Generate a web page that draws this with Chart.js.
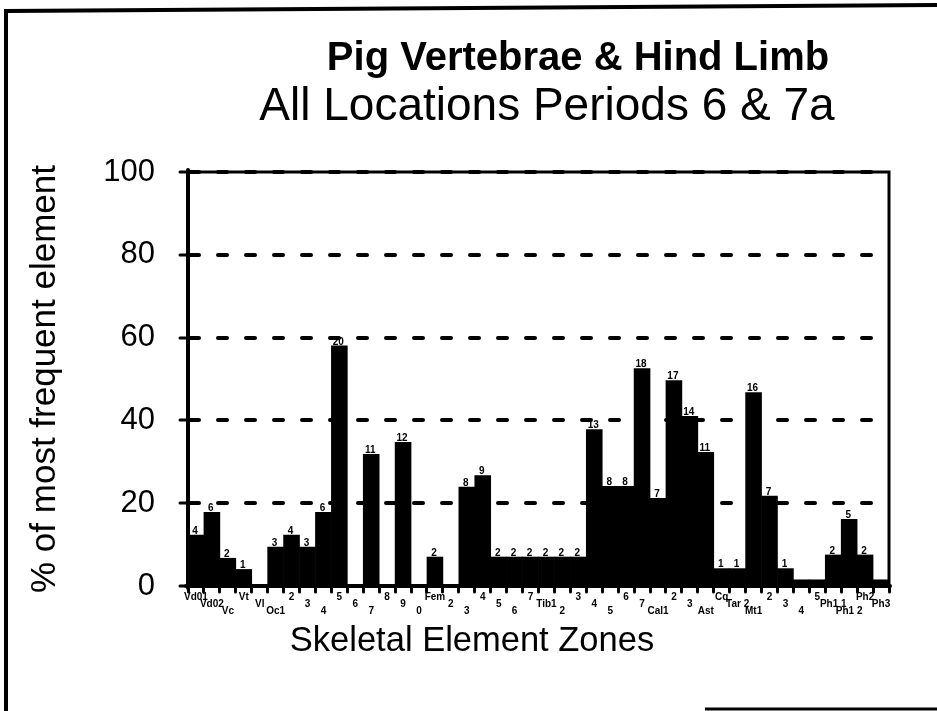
<!DOCTYPE html>
<html>
<head>
<meta charset="utf-8">
<script src="https://cdn.jsdelivr.net/npm/chart.js@4.4.1/dist/chart.umd.min.js"></script>
<style>
  html, body { margin: 0; padding: 0; background: #fff; }
  #wrap { width: 937px; height: 711px; }
</style>
</head>
<body>
<div id="wrap"><canvas id="zones" width="937" height="711"></canvas></div>
<script>
// skeletal zones, in the order they run along the x axis
const zones = ['Vd01', 'Vd02', 'Vc', 'Vt', 'Vl', 'Oc1', '2', '3', '4', '5', '6', '7', '8', '9', '0',
  'Fem', '2', '3', '4', '5', '6', '7', 'Tib1', '2', '3', '4', '5', '6', '7',
  'Cal1', '2', '3', 'Ast', 'Cq', 'Tar 2', 'Mt1', '2', '3', '4', '5', 'Ph1 1', 'Ph1 2', 'Ph2', 'Ph3'];

// % of most frequent element
const percent = [12.3, 17.8, 6.7, 4.0, 0, 9.4, 12.3, 9.4, 17.8, 58, 0, 31.8, 0, 34.7, 0,
  7.0, 0, 23.9, 26.7, 7.0, 7.0, 7.0, 7.0, 7.0, 7.0, 37.8, 24.1, 24.1, 52.5,
  21.2, 49.6, 41.0, 32.3, 4.2, 4.2, 46.7, 21.7, 4.2, 1.5, 1.5, 7.5, 16.1, 7.5, 1.5];

// counts printed above the bars
const counts = ['4', '6', '2', '1', '', '3', '4', '3', '6', '20', '', '11', '', '12', '',
  '2', '', '8', '9', '2', '2', '2', '2', '2', '2', '13', '8', '8', '18',
  '7', '17', '14', '11', '1', '1', '16', '7', '1', '', '', '2', '5', '2', ''];

const yTicks = [0, 20, 40, 60, 80, 100];

const FONT = '"Liberation Sans", Arial, Helvetica, sans-serif';

// labels sit on three staggered rows
const staggered = zones.map((z, i) => {
  const rows = ['', '', ''];
  rows[i % 3] = z;
  return rows.slice(0, (i % 3) + 1);
});

const decor = {
  id: 'decor',
  beforeDraw(chart) {
    chart.ctx.lineCap = 'round';
  },
  afterDatasetsDraw(chart) {
    const ctx = chart.ctx;
    const a = chart.chartArea;
    ctx.save();
    ctx.lineCap = 'butt';
    ctx.strokeStyle = '#000';
    ctx.lineWidth = 3;
    ctx.beginPath();
    ctx.moveTo(a.left - 2, a.top);
    ctx.lineTo(a.right, a.top);
    ctx.lineTo(a.right, a.bottom + 2);
    ctx.stroke();

    // counts above bars
    const meta = chart.getDatasetMeta(0);
    ctx.fillStyle = '#000';
    ctx.font = 'bold 10px ' + FONT;
    ctx.textAlign = 'center';
    ctx.textBaseline = 'bottom';
    meta.data.forEach((bar, i) => {
      if (counts[i]) ctx.fillText(counts[i], bar.x - 1, bar.y + 1);
    });
    ctx.restore();
  },
  afterDraw(chart) {
    const ctx = chart.ctx;
    ctx.save();
    ctx.lineCap = 'butt';
    ctx.fillStyle = '#000';
    ctx.textAlign = 'center';
    ctx.textBaseline = 'alphabetic';
    ctx.font = 'bold 40px ' + FONT;
    ctx.fillText('Pig Vertebrae & Hind Limb', 578, 70);
    ctx.font = '46px ' + FONT;
    ctx.fillText('All Locations Periods 6 & 7a', 547, 120);
    ctx.font = '34.5px ' + FONT;
    ctx.fillText('Skeletal Element Zones', 472, 651);

    // page frame
    ctx.strokeStyle = '#000';
    ctx.lineWidth = 4;
    ctx.beginPath();
    ctx.moveTo(6, 711);
    ctx.lineTo(6, 11);
    ctx.lineTo(937, 5);
    ctx.stroke();
    ctx.lineWidth = 3;
    ctx.beginPath();
    ctx.moveTo(705, 709);
    ctx.lineTo(937, 709);
    ctx.stroke();
    ctx.restore();
  }
};

new Chart(document.getElementById('zones'), {
  type: 'bar',
  data: {
    labels: staggered,
    datasets: [{
      data: percent,
      backgroundColor: '#000',
      borderWidth: 0,
      barPercentage: 1,
      categoryPercentage: 1
    }]
  },
  options: {
    responsive: false,
    animation: false,
    devicePixelRatio: 1,
    layout: { padding: { top: 172, right: 48, bottom: 0, left: 0 } },
    plugins: { legend: { display: false }, tooltip: { enabled: false }, title: { display: false } },
    scales: {
      x: {
        grid: { display: true, drawOnChartArea: false, drawTicks: true, tickLength: 6, tickWidth: 3, tickColor: '#000', offset: true },
        border: { display: true, color: '#000', width: 4 },
        ticks: {
          autoSkip: false, maxRotation: 0, minRotation: 0, padding: 2, color: '#000',
          font: { family: FONT, size: 10, weight: 'bold', lineHeight: 0.7 }
        },
        afterFit(scale) { scale.height = 711 - 586; }
      },
      y: {
        min: 0,
        max: 100,
        afterBuildTicks(scale) { scale.ticks = yTicks.map(v => ({ value: v })); },
        grid: { color: '#000', lineWidth: 4, drawTicks: true, tickLength: 8, tickWidth: 3, tickColor: '#000', tickBorderDash: [] },
        border: { display: true, color: '#000', width: 4, dash: [9, 19], dashOffset: 0 },
        ticks: { padding: 25, color: '#000', font: { family: FONT, size: 31 } },
        title: {
          display: true, text: '% of most frequent element', color: '#000',
          font: { family: FONT, size: 35 }, padding: { top: 24, bottom: 0 }
        },
        afterFit(scale) { scale.width = 188; }
      }
    }
  },
  plugins: [decor]
});
</script>
</body>
</html>
